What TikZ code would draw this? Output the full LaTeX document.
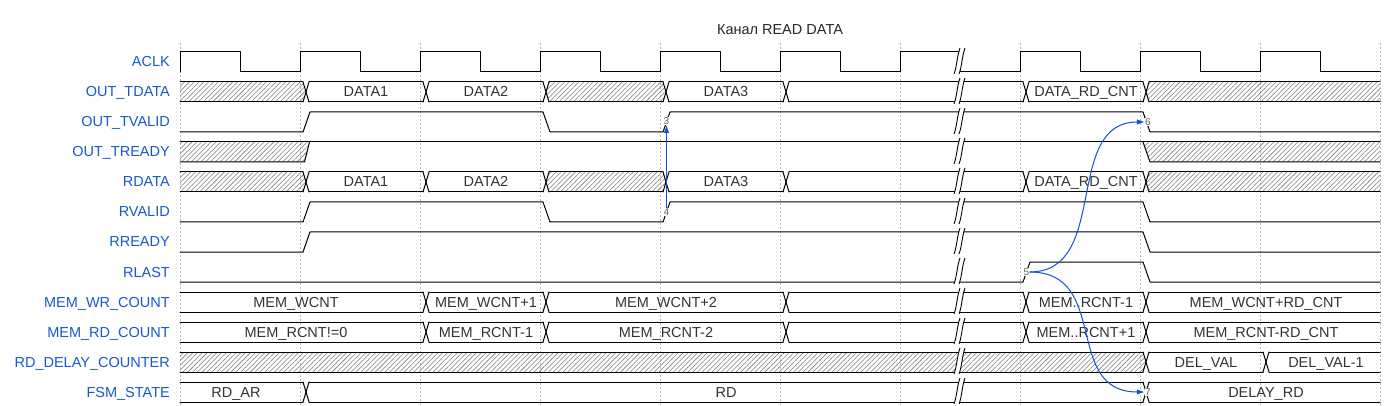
\documentclass[tikz,border=0pt]{standalone}
\usepackage{fontspec}
\setmainfont{Liberation Sans}
\usetikzlibrary{patterns.meta,arrows.meta}
\definecolor{lblblue}{RGB}{26,86,210}
\definecolor{arrblue}{RGB}{22,80,215}
\definecolor{txtgray}{RGB}{51,51,51}
\definecolor{hatchgray}{RGB}{125,125,125}
\definecolor{gridgray}{RGB}{185,185,185}
\definecolor{evgray}{RGB}{100,100,100}
\tikzset{
  wave/.style={line width=1pt, black, line cap=round, line join=round},
  hatch/.style={pattern={Lines[angle=45,distance=3.4pt,line width=0.55pt]}, pattern color=hatchgray},
  gridline/.style={gridgray, line width=0.7pt, dash pattern=on 2pt off 2pt},
  siglabel/.style={anchor=base east, text=lblblue, font=\fontsize{14.5}{16}\selectfont, inner sep=0pt},
  datatext/.style={anchor=base, text=txtgray, font=\fontsize{14.5}{16}\selectfont, inner sep=0pt},
  evnode/.style={fill=white, text=evgray, font=\fontsize{10}{11}\selectfont, inner sep=0.2pt},
  evarrow/.style={arrblue, line width=1pt, -{Latex[length=8pt,width=5.5pt]}},
  gapline/.style={line width=0.9pt, black},
}
\newcommand\wavegeom[3]{%
  \pgfmathsetmacro\cy{62+30*#1}%
  \pgfmathsetmacro\ty{\cy-10}%
  \pgfmathsetmacro\by{\cy+10}%
  \ifnum#2=180 \def\xlt{180}\def\xlm{180}\else
    \pgfmathsetmacro\xlt{#2+9}\pgfmathsetmacro\xlm{#2+6}\fi
  \ifnum#3=1380 \def\xrt{1380}\def\xrm{1380}\else
    \pgfmathsetmacro\xrt{#3+3}\pgfmathsetmacro\xrm{#3+6}\fi
}
\newcommand\waveoutline[2]{%
  \draw[wave] (\xlt,\ty) -- (\xrt,\ty) (\xlt,\by) -- (\xrt,\by);
  \ifnum#1=180 \else \draw[wave] (\xlt,\ty) -- (\xlm,\cy) -- (\xlt,\by);\fi
  \ifnum#2=1380 \else \draw[wave] (\xrt,\ty) -- (\xrm,\cy) -- (\xrt,\by);\fi
}
\newcommand\dseg[5]{%
  \wavegeom{#1}{#2}{#3}\waveoutline{#2}{#3}%
  \def\tmplabel{#5}%
  \ifx\tmplabel\empty\else
    \node[datatext] (d#1x#2) at (#4,\cy+5) {#5};
  \fi
}
\newcommand\xseg[3]{%
  \wavegeom{#1}{#2}{#3}%
  \fill[hatch] (\xlt,\ty) -- (\xrt,\ty) -- (\xrm,\cy) -- (\xrt,\by) -- (\xlt,\by) -- (\xlm,\cy) -- cycle;
  \waveoutline{#2}{#3}%
}
\begin{document}
\begin{tikzpicture}[x=1pt,y=-1pt]
\fill[white] (0,0) rectangle (1400,406);
\useasboundingbox (0,0) rectangle (1400,406);
% grid
\foreach \k in {0,...,10} \draw[gridline] ({180+120*\k},43) -- ({180+120*\k},406);
% title
\node[anchor=base, font=\fontsize{14.5}{16}\selectfont, text=black!85, inner sep=0pt] (title) at (780,35) {Канал READ DATA};
% signal names
\node[siglabel] (l0) at (170,67) {ACLK};
\node[siglabel] (l1) at (170,97) {OUT\_TDATA};
\node[siglabel] (l2) at (170,127) {OUT\_TVALID};
\node[siglabel] (l3) at (170,157) {OUT\_TREADY};
\node[siglabel] (l4) at (170,187) {RDATA};
\node[siglabel] (l5) at (170,217) {RVALID};
\node[siglabel] (l6) at (170,247) {RREADY};
\node[siglabel] (l7) at (170,277) {RLAST};
\node[siglabel] (l8) at (170,307) {MEM\_WR\_COUNT};
\node[siglabel] (l9) at (170,337) {MEM\_RD\_COUNT};
\node[siglabel] (l10) at (170,367) {RD\_DELAY\_COUNTER};
\node[siglabel] (l11) at (170,397) {FSM\_STATE};
% ACLK
\draw[wave] (180,72) \foreach \k in {0,...,9} { -- ({180+120*\k},72) -- ({180+120*\k},52) -- ({240+120*\k},52) -- ({240+120*\k},72) } -- (1380,72);
% OUT_TDATA
\xseg{1}{180}{300}
\dseg{1}{300}{420}{366}{DATA1}
\dseg{1}{420}{540}{486}{DATA2}
\xseg{1}{540}{660}
\dseg{1}{660}{780}{726}{DATA3}
\dseg{1}{780}{1020}{906}{}
\dseg{1}{1020}{1140}{1086}{DATA\_RD\_CNT}
\xseg{1}{1140}{1380}
% OUT_TVALID
\draw[wave] (180,132) -- (303,132) -- (310,112) -- (543,112) -- (550,132) -- (663,132) -- (670,112) -- (1143,112) -- (1150,132) -- (1380,132);
% OUT_TREADY
\fill[hatch] (180,142) -- (309.5,142) -- (304.5,162) -- (180,162) -- cycle;
\fill[hatch] (1143,142) -- (1380,142) -- (1380,162) -- (1150,162) -- cycle;
\draw[wave] (180,142) -- (1380,142);
\draw[wave] (180,162) -- (304.5,162) -- (309.5,142);
\draw[wave] (1143,142) -- (1150,162) -- (1380,162);
% RDATA
\xseg{4}{180}{300}
\dseg{4}{300}{420}{366}{DATA1}
\dseg{4}{420}{540}{486}{DATA2}
\xseg{4}{540}{660}
\dseg{4}{660}{780}{726}{DATA3}
\dseg{4}{780}{1020}{906}{}
\dseg{4}{1020}{1140}{1086}{DATA\_RD\_CNT}
\xseg{4}{1140}{1380}
% RVALID
\draw[wave] (180,222) -- (303,222) -- (310,202) -- (543,202) -- (550,222) -- (663,222) -- (670,202) -- (1143,202) -- (1150,222) -- (1380,222);
% RREADY
\draw[wave] (180,252) -- (303,252) -- (310,232) -- (1143,232) -- (1150,252) -- (1380,252);
% RLAST
\draw[wave] (180,282) -- (1023,282) -- (1030,262) -- (1143,262) -- (1150,282) -- (1380,282);
% MEM_WR_COUNT
\dseg{8}{180}{420}{296}{MEM\_WCNT}
\dseg{8}{420}{540}{486}{MEM\_WCNT+1}
\dseg{8}{540}{780}{666}{MEM\_WCNT+2}
\dseg{8}{780}{1020}{906}{}
\dseg{8}{1020}{1140}{1086}{MEM..RCNT-1}
\dseg{8}{1140}{1380}{1266}{MEM\_WCNT+RD\_CNT}
% MEM_RD_COUNT
\dseg{9}{180}{420}{296}{MEM\_RCNT!=0}
\dseg{9}{420}{540}{486}{MEM\_RCNT-1}
\dseg{9}{540}{780}{666}{MEM\_RCNT-2}
\dseg{9}{780}{1020}{906}{}
\dseg{9}{1020}{1140}{1086}{MEM..RCNT+1}
\dseg{9}{1140}{1380}{1266}{MEM\_RCNT-RD\_CNT}
% RD_DELAY_COUNTER
\xseg{10}{180}{1140}
\dseg{10}{1140}{1260}{1206}{DEL\_VAL}
\dseg{10}{1260}{1380}{1326}{DEL\_VAL-1}
% FSM_STATE
\dseg{11}{180}{300}{236}{RD\_AR}
\dseg{11}{300}{1140}{726}{RD}
\dseg{11}{1140}{1380}{1266}{DELAY\_RD}
% gaps
\foreach \r in {0,...,11} {
  \pgfmathsetmacro\gc{62+30*\r}
  \fill[white] (954,\gc+12) .. controls (957,\gc+4) and (957,\gc-6) .. (960,\gc-14) -- (965,\gc-14) .. controls (962,\gc-6) and (962,\gc+4) .. (959,\gc+12) -- cycle;
  \draw[gapline] (954,\gc+12) .. controls (957,\gc+4) and (957,\gc-6) .. (960,\gc-14) (959,\gc+12) .. controls (962,\gc+4) and (962,\gc-6) .. (965,\gc-14);
}
% event nodes
\node[evnode] (n3) at (666.5,121) {3};
\node[evnode] (n4) at (666.5,212) {4};
\node[evnode] (n5) at (1026.5,272) {5};
\node[evnode] (n6) at (1148,122) {6};
\node[evnode] (n7) at (1148,392) {7};
% arrows
\draw[evarrow] (n4) -- (n3);
\draw[evarrow] (n5) .. controls (1110.5,272) and (1062.5,122) .. (n6);
\draw[evarrow] (n5) .. controls (1110.5,272) and (1062.5,392) .. (n7);
\end{tikzpicture}
\end{document}
